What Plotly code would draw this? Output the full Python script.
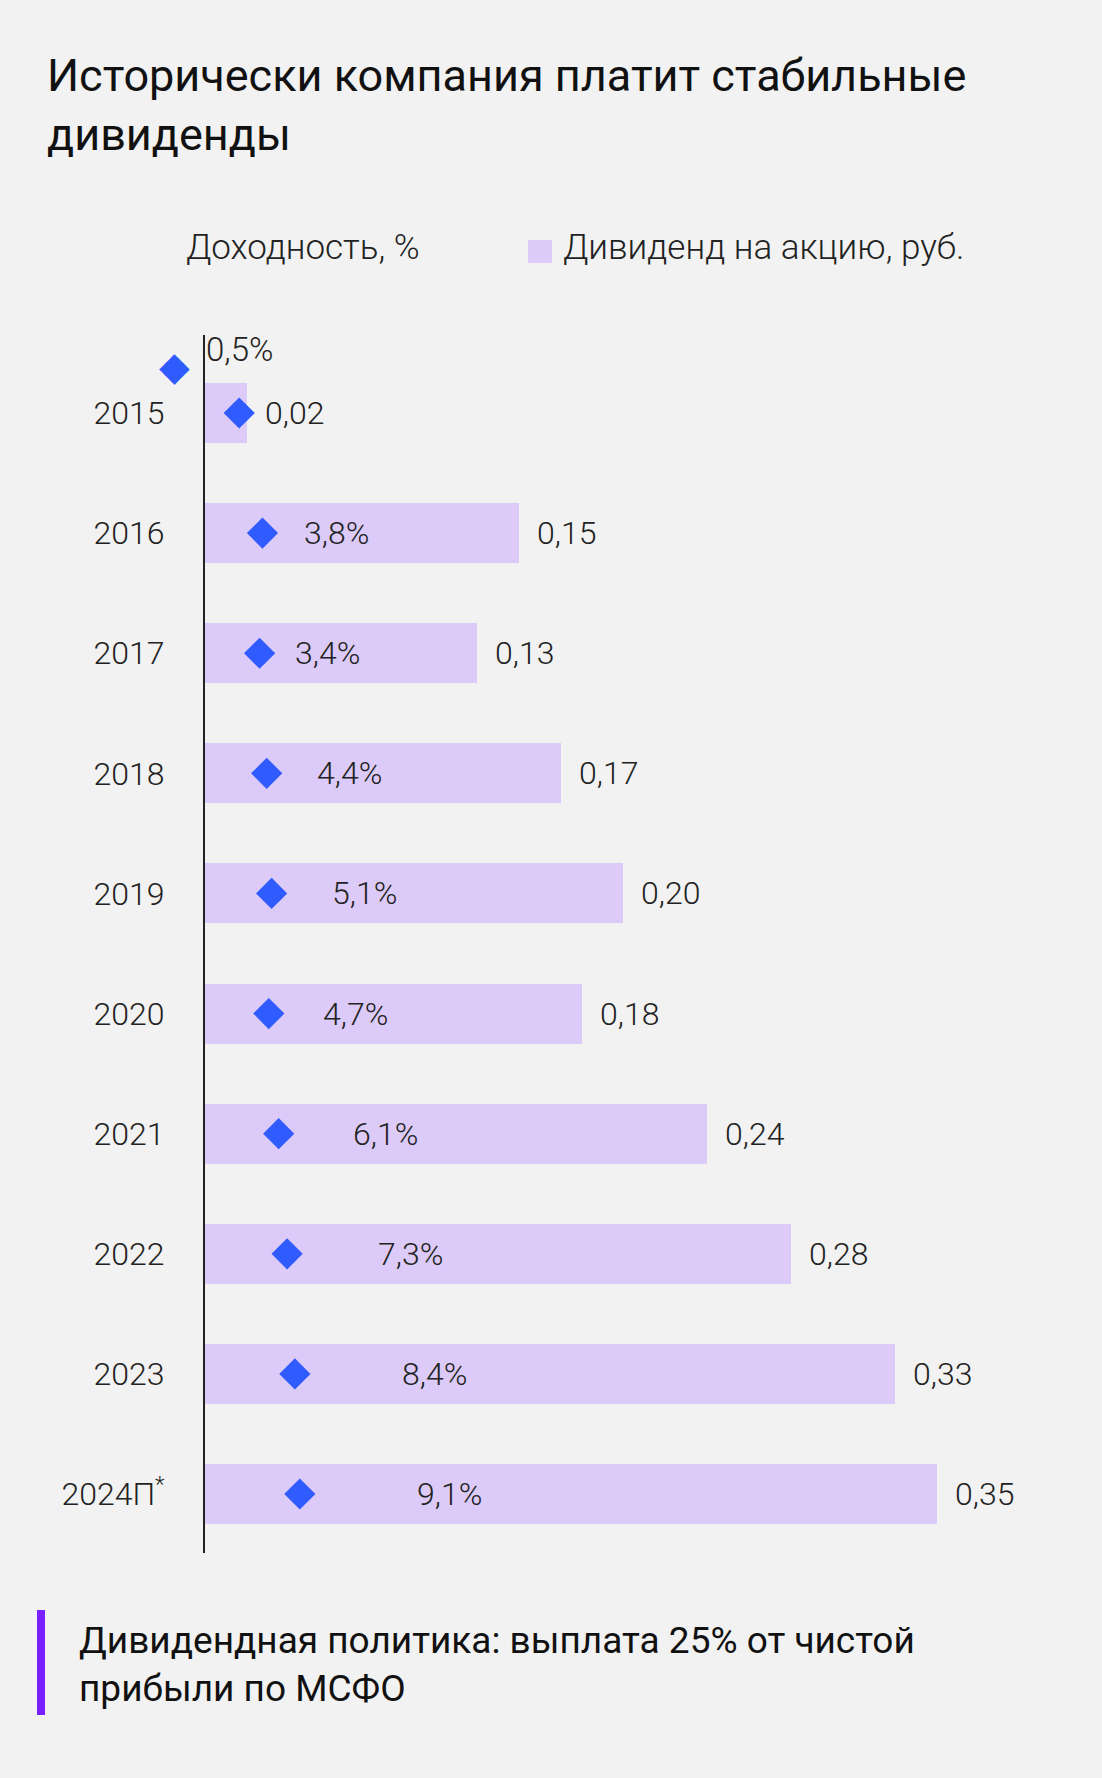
import plotly.graph_objects as go

# ---------------- data ----------------
years = ["2015", "2016", "2017", "2018", "2019", "2020", "2021", "2022", "2023", "2024П<sup>*</sup>"]
dividends = [0.02, 0.15, 0.13, 0.17, 0.20, 0.18, 0.24, 0.28, 0.33, 0.35]
yields = [0.5, 3.8, 3.4, 4.4, 5.1, 4.7, 6.1, 7.3, 8.4, 9.1]

title_text = "Исторически компания платит стабильные<br>дивиденды"
legend_yield = "Доходность, %"
legend_div = "Дивиденд на акцию, руб."
footer_text = "Дивидендная политика: выплата 25% от чистой<br>прибыли по МСФО"

# ---------------- style ----------------
W, H = 1102, 1778
ML, MR, MT, MB = 205, 0, 335, 225
PW, PH = W - ML - MR, H - MT - MB
BG = "#F2F2F2"
BAR = "#DCCBF8"
DIAM = "#2F5BFF"
TXT = "#222222"
FONT = "Roboto"


def fx(p):
    return (p - ML) / PW


def fy(p):
    return (H - MB - p) / PH


def fmt(v, nd=2):
    return f"{v:.{nd}f}".replace(".", ",")


fig = go.Figure()

fig.add_trace(go.Bar(
    y=years, x=dividends, orientation="h", width=0.5,
    marker=dict(color=BAR, line=dict(width=0)),
    xaxis="x", yaxis="y", showlegend=False, hoverinfo="skip",
))

fig.add_trace(go.Scatter(
    y=years, x=yields, mode="markers", xaxis="x3", yaxis="y",
    marker=dict(symbol="diamond", size=24, color=DIAM, line=dict(width=0)),
    showlegend=False, hoverinfo="skip",
))

annotations = []
label_font = dict(family=FONT, size=32, color=TXT, weight=300)

# dividend value labels (category index used as position)
for i, v in enumerate(dividends):
    annotations.append(dict(
        x=v, y=i, xref="x", yref="y", text=fmt(v, 2), showarrow=False,
        xanchor="left", yanchor="middle", xshift=16, font=label_font,
    ))

# yield labels
for i, v in enumerate(yields):
    xs, ys = (-28, 64) if i == 0 else (0, 0)
    annotations.append(dict(
        x=v, y=i, xref="x2", yref="y", text=fmt(v, 1) + "%", showarrow=False,
        xanchor="left", yanchor="middle", xshift=xs, yshift=ys,
        font=dict(label_font, size=33 if i == 0 else 32),
    ))

# extra marker for 2015 callout
annotations.append(dict(
    x=yields[0], y=0, xref="x3", yref="y", text="◆", showarrow=False,
    xanchor="center", yanchor="middle", xshift=-65, yshift=47,
    font=dict(family="DejaVu Sans", size=40, color=DIAM),
))

# title
annotations.append(dict(
    x=fx(45), y=fy(47), xref="paper", yref="paper", text=title_text,
    showarrow=False, xanchor="left", yanchor="top", align="left",
    font=dict(family=FONT, size=45, color="#111111", weight=400),
))

# legend texts
annotations.append(dict(
    x=fx(184), y=fy(247), xref="paper", yref="paper", text=legend_yield,
    showarrow=False, xanchor="left", yanchor="middle",
    font=dict(family=FONT, size=35, color=TXT, weight=300),
))
annotations.append(dict(
    x=fx(561), y=fy(247), xref="paper", yref="paper", text=legend_div,
    showarrow=False, xanchor="left", yanchor="middle",
    font=dict(family=FONT, size=35, color=TXT, weight=300),
))

# footer
annotations.append(dict(
    x=fx(77), y=fy(1664), xref="paper", yref="paper", text=footer_text,
    showarrow=False, xanchor="left", yanchor="middle", align="left",
    font=dict(family=FONT, size=37, color="#111111", weight=400),
))

shapes = [
    dict(type="rect", xref="paper", yref="paper",
         x0=fx(528), x1=fx(552), y0=fy(240), y1=fy(263),
         fillcolor=BAR, line=dict(width=0)),
    dict(type="rect", xref="paper", yref="paper",
         x0=fx(37), x1=fx(45), y0=fy(1610), y1=fy(1715),
         fillcolor="#7A1FFF", line=dict(width=0)),
]

px_per_rub = 2092.0
px_per_pct_label = 21.3
px_per_pct_diam = 7.05

fig.update_layout(
    width=W, height=H,
    margin=dict(l=ML, r=MR, t=MT, b=MB),
    paper_bgcolor=BG, plot_bgcolor=BG,
    font=dict(family=FONT, color=TXT),
    showlegend=False,
    bargap=0,
    xaxis=dict(range=[0, PW / px_per_rub], visible=False, fixedrange=True),
    xaxis2=dict(range=[-0.75, -0.75 + PW / px_per_pct_label], overlaying="x",
                visible=False, anchor="y"),
    xaxis3=dict(range=[-4.35, -4.35 + PW / px_per_pct_diam], overlaying="x",
                visible=False, anchor="y"),
    yaxis=dict(
        type="category", range=[9 + 59 / 120.1, -78 / 120.1],
        showline=True, linecolor=TXT, linewidth=2, ticks="",
        showgrid=False, zeroline=False,
        tickfont=dict(family=FONT, size=32, color=TXT, weight=300),
        ticklabelstandoff=32,
    ),
    annotations=annotations,
    shapes=shapes,
)

fig.write_html(
    "out.html",
    config={"displayModeBar": False},
    post_script="document.body.style.margin='0';document.body.style.background='#F2F2F2';",
)
